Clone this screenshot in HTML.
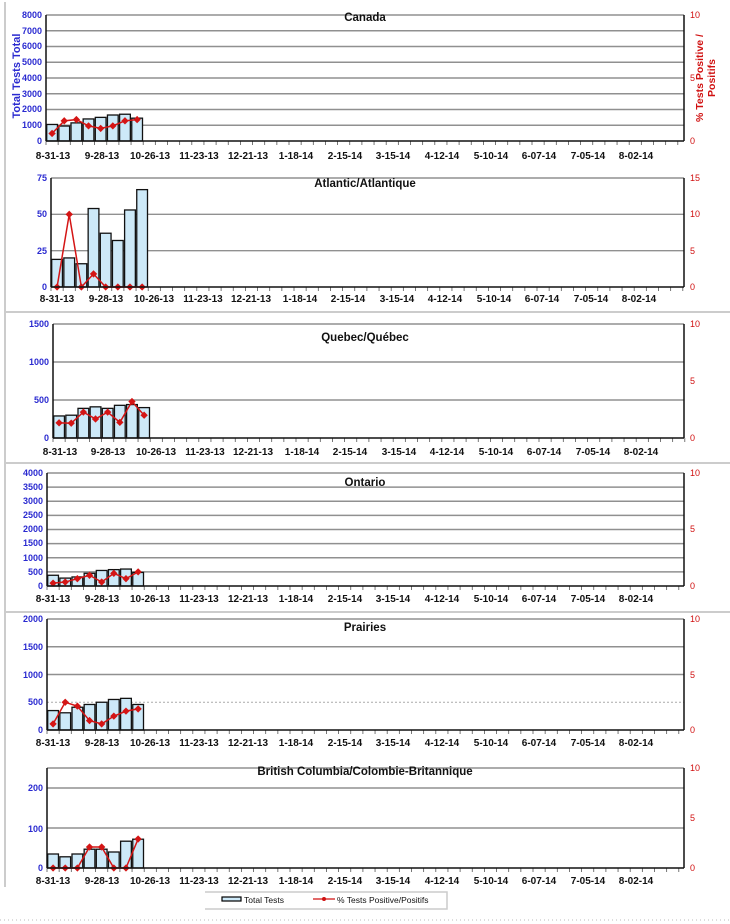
<!DOCTYPE html>
<html><head><meta charset="utf-8"><style>
html,body{margin:0;padding:0;background:#fff;}
svg{display:block;font-family:"Liberation Sans",Arial,sans-serif;}
.xl{font-size:10px;font-weight:bold;fill:#111;text-anchor:middle;}
.yl{font-size:9px;font-weight:bold;fill:#2a2ad0;text-anchor:end;}
.yr{font-size:9px;fill:#d01010;text-anchor:start;}
.t{font-size:11.5px;font-weight:bold;fill:#111;text-anchor:middle;}
</style></head><body>
<svg id="s" width="730" height="924" viewBox="0 0 730 924" xmlns="http://www.w3.org/2000/svg">
<g id="g"></g>
<line x1="5" y1="2" x2="5" y2="887" stroke="#ccc" stroke-width="2"/>
<line x1="5" y1="312" x2="730" y2="312" stroke="#ccc" stroke-width="2"/>
<line x1="5" y1="463" x2="730" y2="463" stroke="#ccc" stroke-width="2"/>
<line x1="5" y1="612" x2="730" y2="612" stroke="#ccc" stroke-width="2"/>
<line x1="0" y1="920" x2="730" y2="920" stroke="#bbb" stroke-dasharray="1,3"/>
<text class="t" x="365" y="21">Canada</text>
<text class="t" x="365" y="187">Atlantic/Atlantique</text>
<text class="t" x="365" y="341">Quebec/Québec</text>
<text class="t" x="365" y="486">Ontario</text>
<text class="t" x="365" y="631">Prairies</text>
<text class="t" x="365" y="775">British Columbia/Colombie-Britannique</text>
<text transform="translate(20,76) rotate(-90)" style="font-size:11px;font-weight:bold;fill:#2a2ad0;text-anchor:middle">Total Tests Total</text>
<text transform="translate(703,78) rotate(-90)" style="font-size:10.5px;font-weight:bold;fill:#d01010;text-anchor:middle">% Tests Positive /</text>
<text transform="translate(715,78) rotate(-90)" style="font-size:10.5px;font-weight:bold;fill:#d01010;text-anchor:middle">Positifs</text>
<g>
<text class="yl" x="42" y="18">8000</text><text class="yl" x="42" y="34">7000</text><text class="yl" x="42" y="49">6000</text><text class="yl" x="42" y="65">5000</text><text class="yl" x="42" y="81">4000</text><text class="yl" x="42" y="97">3000</text><text class="yl" x="42" y="112">2000</text><text class="yl" x="42" y="128">1000</text><text class="yl" x="42" y="144">0</text>
<text class="yl" x="47" y="181">75</text><text class="yl" x="47" y="217">50</text><text class="yl" x="47" y="254">25</text><text class="yl" x="47" y="290">0</text>
<text class="yl" x="49" y="327">1500</text><text class="yl" x="49" y="365">1000</text><text class="yl" x="49" y="403">500</text><text class="yl" x="49" y="441">0</text>
<text class="yl" x="43" y="476">4000</text><text class="yl" x="43" y="490">3500</text><text class="yl" x="43" y="504">3000</text><text class="yl" x="43" y="518">2500</text><text class="yl" x="43" y="532">2000</text><text class="yl" x="43" y="546">1500</text><text class="yl" x="43" y="561">1000</text><text class="yl" x="43" y="575">500</text><text class="yl" x="43" y="589">0</text>
<text class="yl" x="43" y="622">2000</text><text class="yl" x="43" y="650">1500</text><text class="yl" x="43" y="678">1000</text><text class="yl" x="43" y="705">500</text><text class="yl" x="43" y="733">0</text>
<text class="yl" x="43" y="791">200</text><text class="yl" x="43" y="832">100</text><text class="yl" x="43" y="871">0</text>
</g>
<g>
<text class="yr" x="690" y="18">10</text><text class="yr" x="690" y="81">5</text><text class="yr" x="690" y="144">0</text>
<text class="yr" x="690" y="181">15</text><text class="yr" x="690" y="217">10</text><text class="yr" x="690" y="254">5</text><text class="yr" x="690" y="290">0</text>
<text class="yr" x="690" y="327">10</text><text class="yr" x="690" y="384">5</text><text class="yr" x="690" y="441">0</text>
<text class="yr" x="690" y="476">10</text><text class="yr" x="690" y="532">5</text><text class="yr" x="690" y="589">0</text>
<text class="yr" x="690" y="622">10</text><text class="yr" x="690" y="678">5</text><text class="yr" x="690" y="733">0</text>
<text class="yr" x="690" y="771">10</text><text class="yr" x="690" y="821">5</text><text class="yr" x="690" y="871">0</text>
</g>
<text class="xl" y="159"><tspan x="53">8-31-13</tspan><tspan x="102">9-28-13</tspan><tspan x="150">10-26-13</tspan><tspan x="199">11-23-13</tspan><tspan x="248">12-21-13</tspan><tspan x="296">1-18-14</tspan><tspan x="345">2-15-14</tspan><tspan x="393">3-15-14</tspan><tspan x="442">4-12-14</tspan><tspan x="491">5-10-14</tspan><tspan x="539">6-07-14</tspan><tspan x="588">7-05-14</tspan><tspan x="636">8-02-14</tspan></text>
<text class="xl" y="302"><tspan x="57">8-31-13</tspan><tspan x="106">9-28-13</tspan><tspan x="154">10-26-13</tspan><tspan x="203">11-23-13</tspan><tspan x="251">12-21-13</tspan><tspan x="300">1-18-14</tspan><tspan x="348">2-15-14</tspan><tspan x="397">3-15-14</tspan><tspan x="445">4-12-14</tspan><tspan x="494">5-10-14</tspan><tspan x="542">6-07-14</tspan><tspan x="591">7-05-14</tspan><tspan x="639">8-02-14</tspan></text>
<text class="xl" y="455"><tspan x="60">8-31-13</tspan><tspan x="108">9-28-13</tspan><tspan x="156">10-26-13</tspan><tspan x="205">11-23-13</tspan><tspan x="253">12-21-13</tspan><tspan x="302">1-18-14</tspan><tspan x="350">2-15-14</tspan><tspan x="399">3-15-14</tspan><tspan x="447">4-12-14</tspan><tspan x="496">5-10-14</tspan><tspan x="544">6-07-14</tspan><tspan x="593">7-05-14</tspan><tspan x="641">8-02-14</tspan></text>
<text class="xl" y="602"><tspan x="53">8-31-13</tspan><tspan x="102">9-28-13</tspan><tspan x="150">10-26-13</tspan><tspan x="199">11-23-13</tspan><tspan x="248">12-21-13</tspan><tspan x="296">1-18-14</tspan><tspan x="345">2-15-14</tspan><tspan x="393">3-15-14</tspan><tspan x="442">4-12-14</tspan><tspan x="491">5-10-14</tspan><tspan x="539">6-07-14</tspan><tspan x="588">7-05-14</tspan><tspan x="636">8-02-14</tspan></text>
<text class="xl" y="746"><tspan x="53">8-31-13</tspan><tspan x="102">9-28-13</tspan><tspan x="150">10-26-13</tspan><tspan x="199">11-23-13</tspan><tspan x="248">12-21-13</tspan><tspan x="296">1-18-14</tspan><tspan x="345">2-15-14</tspan><tspan x="393">3-15-14</tspan><tspan x="442">4-12-14</tspan><tspan x="491">5-10-14</tspan><tspan x="539">6-07-14</tspan><tspan x="588">7-05-14</tspan><tspan x="636">8-02-14</tspan></text>
<text class="xl" y="884"><tspan x="53">8-31-13</tspan><tspan x="102">9-28-13</tspan><tspan x="150">10-26-13</tspan><tspan x="199">11-23-13</tspan><tspan x="248">12-21-13</tspan><tspan x="296">1-18-14</tspan><tspan x="345">2-15-14</tspan><tspan x="393">3-15-14</tspan><tspan x="442">4-12-14</tspan><tspan x="491">5-10-14</tspan><tspan x="539">6-07-14</tspan><tspan x="588">7-05-14</tspan><tspan x="636">8-02-14</tspan></text>
<polyline points="205,892 447,892 447,909 205,909" fill="none" stroke="#ccc" stroke-width="1.5"/>
<rect x="222" y="897" width="19" height="4" fill="#cde9f8" stroke="#000" stroke-width="1.2"/>
<text x="244" y="903" style="font-size:8.5px;fill:#111">Total Tests</text>
<line x1="313" y1="899" x2="335" y2="899" stroke="#d01010" stroke-width="1.2"/>
<circle cx="324" cy="899" r="2" fill="#d01010"/>
<text x="337" y="903" style="font-size:8.5px;fill:#111">% Tests Positive/Positifs</text>
</svg>
<script>
(function(){
var g=document.getElementById('g'),h='';
function P(L,T,B,R,lines,dotted,maxL,bars,maxR,pct){
  var W=12.15;
  for(var i=0;i<lines.length;i++){var y=B-(B-T)*lines[i];var d=(dotted&&dotted===lines[i]);
    h+='<line x1="'+L+'" x2="'+R+'" y1="'+y+'" y2="'+y+'" stroke="'+(d?'#aaa':'#909090')+'" stroke-width="'+(d?1:1.4)+'"'+(d?' stroke-dasharray="2,2"':'')+'/>';}
  for(var k=0;k*W<=R-L+1;k++){var x=L+k*W;h+='<line x1="'+x+'" x2="'+x+'" y1="'+B+'" y2="'+(B+4)+'" stroke="#555" stroke-width="0.8"/>';}
  for(var i=0;i<bars.length;i++){var bh=(B-T)*bars[i]/maxL;
    h+='<rect x="'+(L+i*W+0.7)+'" y="'+(B-bh)+'" width="'+(W-1.4)+'" height="'+bh+'" fill="#cde9f8" stroke="#111" stroke-width="1.3"/>';}
  var pts=[];
  for(var i=0;i<pct.length;i++){pts.push((L+i*W+W/2)+','+(B-(B-T)*pct[i]/maxR));}
  h+='<polyline points="'+pts.join(' ')+'" fill="none" stroke="#d41515" stroke-width="1.5"/>';
  pts.forEach(function(p){var a=p.split(',');h+='<rect x="'+(a[0]-2.6)+'" y="'+(a[1]-2.6)+'" width="5.2" height="5.2" transform="rotate(45 '+a[0]+' '+a[1]+')" fill="#d41515"/>';});
  h+='<line x1="'+L+'" x2="'+L+'" y1="'+T+'" y2="'+B+'" stroke="#111" stroke-width="1.5"/>';
  h+='<line x1="'+R+'" x2="'+R+'" y1="'+T+'" y2="'+B+'" stroke="#111" stroke-width="1.5"/>';
  h+='<line x1="'+L+'" x2="'+R+'" y1="'+B+'" y2="'+B+'" stroke="#111" stroke-width="1.5"/>';
}
function fr(n){var a=[];for(var i=1;i<=n;i++)a.push(i/n);return a;}
P(46,15,141,684,fr(8),0,8000,[1050,950,1150,1400,1500,1650,1700,1450],10,[0.6,1.6,1.7,1.2,1.0,1.2,1.6,1.7]);
P(51,178,287,684,fr(3),0,75,[19,20,16,54,37,32,53,67],15,[0,10,0,1.8,0,0,0,0]);
P(53,324,438,684,fr(3),0,1500,[290,300,390,410,390,430,440,400],10,[1.33,1.3,2.27,1.67,2.27,1.37,3.2,2.0]);
P(47,473,586,684,fr(8),0,4000,[380,280,320,450,550,580,600,480],10,[0.25,0.35,0.65,0.95,0.35,1.12,0.65,1.25]);
P(47,619,730,684,fr(4),0.25,2000,[350,310,410,460,500,550,570,460],10,[0.55,2.5,2.15,0.85,0.55,1.25,1.7,1.9]);
P(47,768,868,684,[0.4,0.8,1],0,250,[35,28,35,47,47,40,67,72],10,[0,0,0,2.1,2.1,0,0,2.9]);
g.innerHTML=h;
})();
</script>
</body></html>
